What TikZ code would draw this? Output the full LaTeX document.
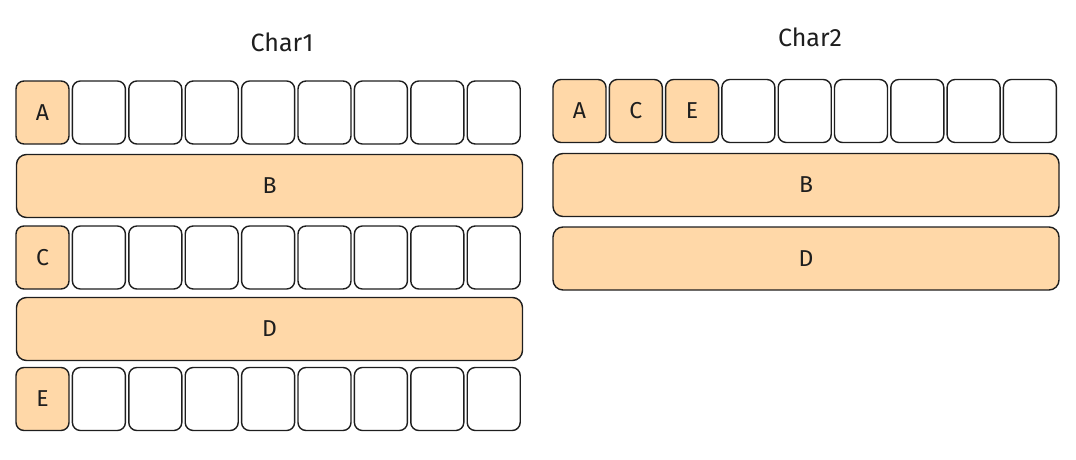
\documentclass[tikz,border=0pt]{standalone}
\usepackage{fontspec}
\setmainfont{Fira Sans}
\definecolor{peach}{HTML}{FFD8A8}
\definecolor{ink}{HTML}{1E1E1E}
\tikzset{
  cell/.style={draw=ink, line width=1.4pt, rounded corners=8pt, minimum width=53pt, minimum height=63pt, inner sep=0pt, font=\fontsize{23}{23}\selectfont, text=ink},
  full/.style={cell, fill=peach},
  empty/.style={cell, fill=white},
  bar/.style={draw=ink, line width=1.4pt, rounded corners=10pt, fill=peach, minimum width=506pt, minimum height=63pt, inner sep=0pt, font=\fontsize{23}{23}\selectfont, text=ink},
  title/.style={font=\fontsize{25}{25}\selectfont, text=ink}
}
\begin{document}
\begin{tikzpicture}[x=1pt,y=-1pt]
\useasboundingbox (0,0) rectangle (1076,460);
% titles
\node[title] (t1) at (282,42) {Char1};
\node[title] (t2) at (810,37) {Char2};
% left column
\foreach \r/\y/\l in {1/112.5/A,3/257.5/C,5/399/E}{
  \node[full] (L\r c0) at (42.5,\y) {\l};
  \foreach \i in {1,...,8}{
    \node[empty] (L\r c\i) at ({42.5+\i*56.4},\y) {};
  }
}
\node[bar] (LB) at (269.5,186) {B};
\node[bar] (LD) at (269.5,329) {D};
% right column
\foreach \i/\l in {0/A,1/C,2/E}{
  \node[full] (R1c\i) at ({579.5+\i*56.3},111) {\l};
}
\foreach \i in {3,...,8}{
  \node[empty] (R1c\i) at ({579.5+\i*56.3},111) {};
}
\node[bar] (RB) at (806,185) {B};
\node[bar] (RD) at (806,258.5) {D};
\end{tikzpicture}
\end{document}
